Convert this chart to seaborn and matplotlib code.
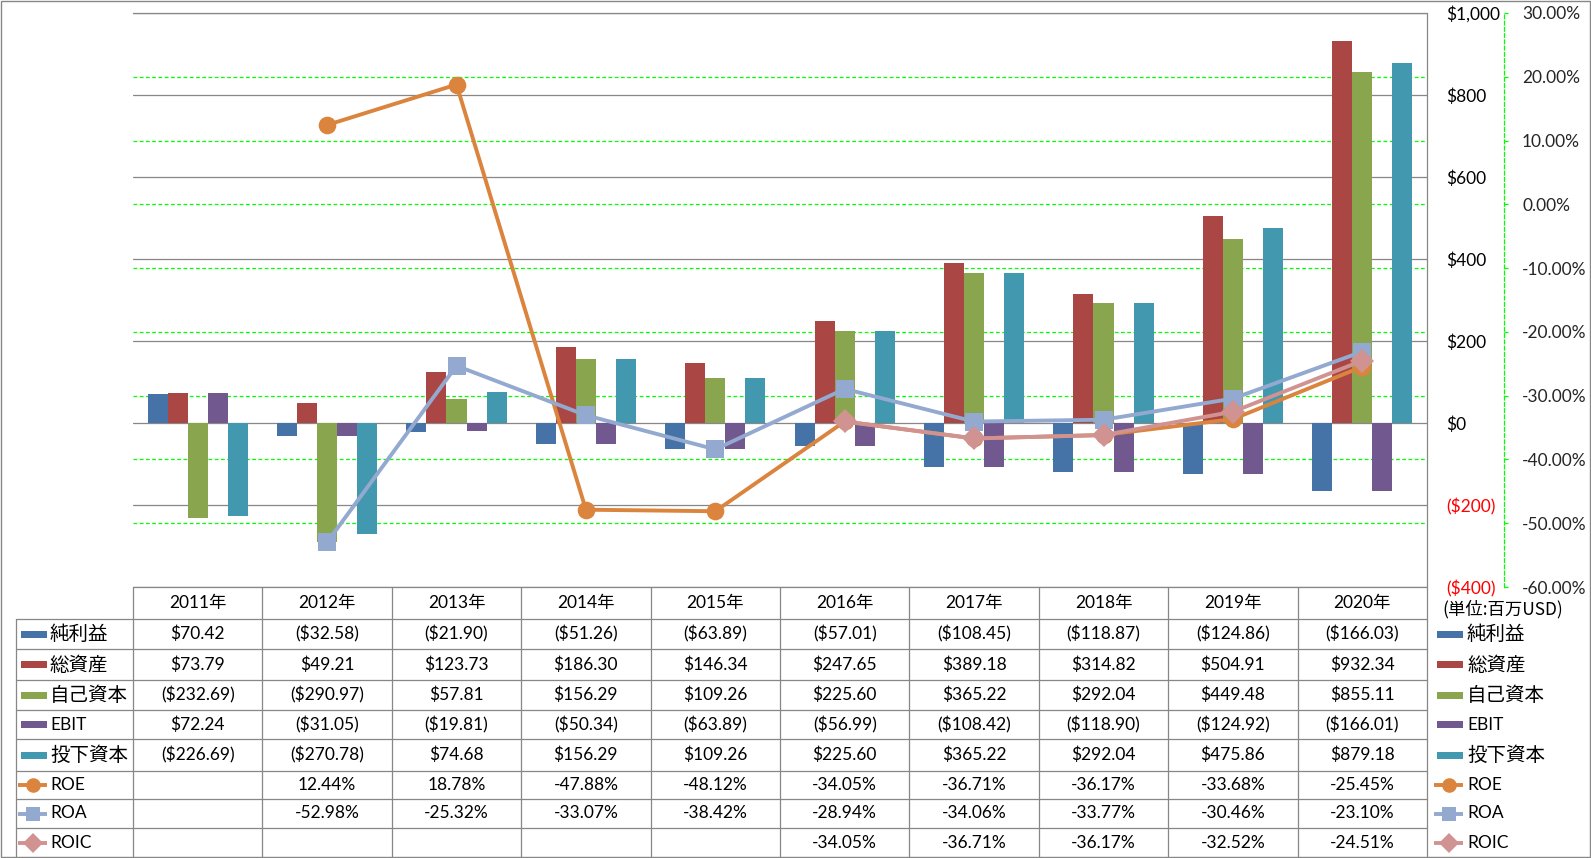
import numpy as np
import pandas as pd
import matplotlib
matplotlib.use("Agg")
import matplotlib.pyplot as plt
import seaborn as sns
from matplotlib.transforms import blended_transform_factory
from matplotlib.patches import Rectangle
from matplotlib.lines import Line2D

# ---------------- data ----------------
years = ['2011年', '2012年', '2013年', '2014年', '2015年',
         '2016年', '2017年', '2018年', '2019年', '2020年']
bar_names = ['純利益', '総資産', '自己資本', 'EBIT', '投下資本']
net_income = [70.42, -32.58, -21.90, -51.26, -63.89, -57.01, -108.45, -118.87, -124.86, -166.03]
total_assets = [73.79, 49.21, 123.73, 186.30, 146.34, 247.65, 389.18, 314.82, 504.91, 932.34]
equity = [-232.69, -290.97, 57.81, 156.29, 109.26, 225.60, 365.22, 292.04, 449.48, 855.11]
ebit = [72.24, -31.05, -19.81, -50.34, -63.89, -56.99, -108.42, -118.90, -124.92, -166.01]
invested_capital = [-226.69, -270.78, 74.68, 156.29, 109.26, 225.60, 365.22, 292.04, 475.86, 879.18]

line_names = ['ROE', 'ROA', 'ROIC']
roe = [np.nan, 12.44, 18.78, -47.88, -48.12, -34.05, -36.71, -36.17, -33.68, -25.45]
roa = [np.nan, -52.98, -25.32, -33.07, -38.42, -28.94, -34.06, -33.77, -30.46, -23.10]
roic = [np.nan, np.nan, np.nan, np.nan, np.nan, -34.05, -36.71, -36.17, -32.52, -24.51]

usd_ticks = [-400, -200, 0, 200, 400, 600, 800, 1000]
pct_ticks = [-60, -50, -40, -30, -20, -10, 0, 10, 20, 30]
unit_label = '(単位:百万USD)'

bar_colors = ['#4572A7', '#AA4643', '#89A54E', '#71588F', '#4198AF']
line_colors = ['#DB843D', '#93A9CF', '#D19392']
line_markers = ['o', 's', 'D']

# ---------------- helpers ----------------
def fmt_usd(v, dec=2):
    s = f'${abs(v):,.{dec}f}'
    return s if v >= 0 else f'({s})'

def fmt_pct(v):
    return '' if np.isnan(v) else f'{v:.2f}%'

W, H = 1591, 858
sns.set_theme(style='white')
plt.rcParams['font.family'] = ['Lato', 'Noto Sans CJK JP', 'DejaVu Sans']
FS = 12.5
GRAY = '#878787'
GREEN = '#00FF00'

fig = plt.figure(figsize=(W / 100, H / 100), dpi=100)
fig.patch.set_facecolor('white')

x0, x1, ytop, ybot = 133, 1427, 13, 587
ax = fig.add_axes([x0 / W, (H - ybot) / H, (x1 - x0) / W, (ybot - ytop) / H])

bars_df = pd.DataFrame({'year': years,
                        bar_names[0]: net_income,
                        bar_names[1]: total_assets,
                        bar_names[2]: equity,
                        bar_names[3]: ebit,
                        bar_names[4]: invested_capital})
long_df = bars_df.melt(id_vars='year', var_name='series', value_name='value')

sns.barplot(data=long_df, x='year', y='value', hue='series', order=years,
            hue_order=bar_names, palette=bar_colors, width=0.773, saturation=1,
            errorbar=None, legend=False, linewidth=0, ax=ax)

ax2 = ax.twinx()
xpos = np.arange(len(years), dtype=float)
for vals, col, mk, ms in zip([roe, roa, roic], line_colors, line_markers, [12.7, 12.5, 12.0]):
    vals = np.asarray(vals, dtype=float)
    m = ~np.isnan(vals)
    sns.lineplot(x=xpos[m], y=vals[m], ax=ax2, color=col, marker=mk, markersize=ms,
                 markeredgewidth=0, markeredgecolor=col, linewidth=2.8, legend=False)

# primary axis
ax.set_ylim(-400, 1000)
ax.set_xlim(-0.5, len(years) - 0.5)
ax.set_xlabel('')
ax.set_ylabel('')
ax.set_xticks([])
ax.yaxis.tick_right()
ax.set_yticks(usd_ticks)
ax.set_yticklabels([fmt_usd(v, 0) for v in usd_ticks])
ax.tick_params(axis='y', length=0, pad=13.7, labelsize=FS)
for lab, v in zip(ax.get_yticklabels(), usd_ticks):
    lab.set_color('#FF0000' if v < 0 else 'black')
for s in ax.spines.values():
    s.set_visible(False)
ax.set_axisbelow(True)
ax.yaxis.grid(True, color=GRAY, linewidth=0.9)
ax.patch.set_visible(False)

# secondary axis
ax2.set_ylim(-60, 30)
ax2.set_xlim(-0.5, len(years) - 0.5)
ax2.set_ylabel('')
ax2.set_yticks(pct_ticks)
ax2.set_yticklabels([f'{v:.2f}%' for v in pct_ticks])
ax2.tick_params(axis='y', direction='out', length=3, width=0.9, color=GREEN, pad=10, labelsize=FS)
for lab, v in zip(ax2.get_yticklabels(), pct_ticks):
    lab.set_color('#FF0000' if v < 0 else 'black')
for k, s in ax2.spines.items():
    s.set_visible(k == 'right')
ax2.spines['right'].set_position(('outward', 77 * 0.72))
ax2.spines['right'].set_color(GREEN)
ax2.spines['right'].set_linestyle((0, (3, 2)))
ax2.spines['right'].set_linewidth(0.9)
ax2.grid(False)

# green secondary gridlines behind the bars (inner ones; the outer ones coincide with the gray frame lines)
tr = blended_transform_factory(ax.transAxes, ax2.transData)
for t in pct_ticks[1:-1]:
    ln = Line2D([0, 1], [t, t], transform=tr, color=GREEN, linewidth=0.9,
                linestyle=(0, (3, 2)), zorder=0.3)
    ax.add_artist(ln)

# ---------------- data table overlay ----------------
ov = fig.add_axes([0, 0, 1, 1], zorder=10)
ov.set_xlim(0, W)
ov.set_ylim(H, 0)
ov.axis('off')
ov.patch.set_visible(False)

row_lines = [587, 619, 649, 680, 710, 739, 771, 799, 828, 857]
ncol = len(years)
col_w = (x1 - x0) / ncol
col_edges = [x0 + i * col_w for i in range(ncol + 1)]
lab_left = 16

# top frame line of the plot ($1,000 / 30%)
ov.plot([x0, x1], [ytop, ytop], color=GRAY, lw=0.9)
# horizontal lines
ov.plot([x0, x1], [row_lines[0], row_lines[0]], color=GRAY, lw=0.9)
for y in row_lines[1:-1]:
    ov.plot([lab_left, x1], [y, y], color=GRAY, lw=0.9)
# vertical lines
ov.plot([lab_left, lab_left], [row_lines[1], H], color=GRAY, lw=0.9)
for xe in col_edges[:-1]:
    ov.plot([xe, xe], [row_lines[0], H], color=GRAY, lw=0.9)
ov.plot([x1, x1], [ytop, H], color=GRAY, lw=0.9)
# outer frame
ov.add_patch(Rectangle((0.5, 0.5), W - 1.5, H - 1.5, fill=False, edgecolor=GRAY, lw=1.0))

# header
hc = (row_lines[0] + row_lines[1]) / 2
for i, yr in enumerate(years):
    ov.text(x0 + (i + 0.5) * col_w, hc, yr, ha='center', va='center', fontsize=FS, color='black')

row_vals = [net_income, total_assets, equity, ebit, invested_capital, roe, roa, roic]
row_names = bar_names + line_names
row_cols = bar_colors + line_colors
row_marks = [None] * 5 + line_markers

def draw_key(xl, xr, yc, color, marker):
    if marker is None:
        ov.add_patch(Rectangle((xl + 3, yc - 3.5), xr - xl - 3, 7, color=color, lw=0))
    else:
        ov.plot([xl, xr], [yc, yc], color=color, lw=2.8, solid_capstyle='butt')
        ov.plot([(xl + xr) / 2], [yc], marker=marker, color=color, markersize=10.5, markeredgewidth=0)

for r in range(8):
    yc = (row_lines[r + 1] + row_lines[r + 2]) / 2
    name = row_names[r]
    fs_name = 14 if not name.isascii() else FS
    # left legend key + label
    draw_key(18, 47, yc, row_cols[r], row_marks[r])
    ov.text(50, yc, name, ha='left', va='center', fontsize=fs_name, color='black')
    # right legend
    draw_key(1434, 1463, yc, row_cols[r], row_marks[r])
    ov.text(1467, yc, name, ha='left', va='center', fontsize=fs_name, color='black')
    vals = row_vals[r]
    for i, v in enumerate(vals):
        s = fmt_usd(v) if r < 5 else fmt_pct(v)
        if s:
            ov.text(x0 + (i + 0.5) * col_w, yc, s, ha='center', va='center', fontsize=FS, color='black')

ov.text(1442, 609, unit_label, ha='left', va='center', fontsize=12.5, color='black',
        family=['Noto Sans CJK JP', 'DejaVu Sans'])

fig.savefig('out.png', dpi=100, facecolor='white')
